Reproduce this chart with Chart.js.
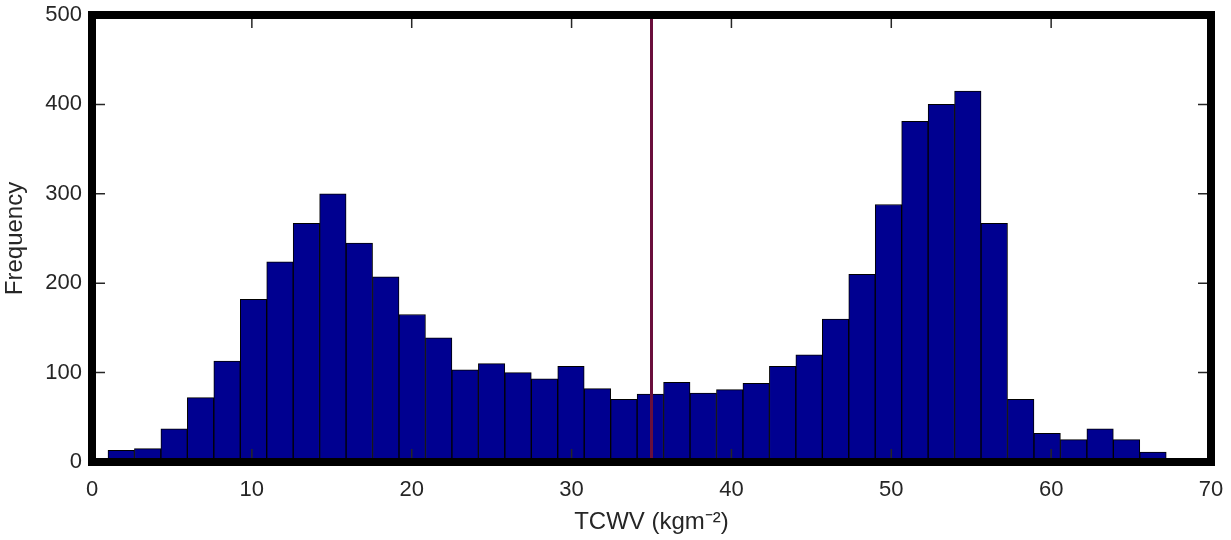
<!DOCTYPE html>
<html>
<head>
<meta charset="utf-8">
<script src="https://cdn.jsdelivr.net/npm/chart.js@4/dist/chart.umd.min.js"></script>
<style>
  html, body { margin: 0; padding: 0; background: #fff; }
  #wrap { width: 1231px; height: 540px; position: relative; }
</style>
</head>
<body>
<div id="wrap"><canvas id="histChart"></canvas></div>
<script>
// histogram bins (TCWV, kg m^-2)
const binStart = 1.0;
const binWidth = 1.655;
const frequency = [
  13, 15, 37, 72, 113, 182, 224, 267, 300, 245,
  207, 165, 139, 103, 110, 100, 93, 107, 82, 70,
  76, 89, 77, 81, 88, 107, 120, 160, 210, 288,
  381, 400, 415, 267, 70, 32, 25, 37, 25, 11
];
const thresholdX = 35;
const xTicks = [0, 10, 20, 30, 40, 50, 60, 70];
const yTicks = [0, 100, 200, 300, 400, 500];

const textColor = '#262626';
const fontFam = '"Liberation Sans", Arial, Helvetica, sans-serif';

// bars go on bin centres
const barPoints = frequency.map((f, i) => ({ x: binStart + binWidth * (i + 0.5), y: f }));

// thick box round the axes + inward ticks on all four sides (matlab look)
const boxPlugin = {
  id: 'boxAxes',
  afterDatasetsDraw(chart) {
    const { ctx, chartArea: a, scales } = chart;
    const tl = 13;
    ctx.save();
    ctx.strokeStyle = textColor;
    ctx.lineWidth = 1.5;
    ctx.beginPath();
    xTicks.slice(1, -1).forEach(v => {
      const px = scales.x.getPixelForValue(v);
      ctx.moveTo(px, a.top); ctx.lineTo(px, a.top + tl);
      ctx.moveTo(px, a.bottom); ctx.lineTo(px, a.bottom - tl);
    });
    yTicks.slice(1, -1).forEach(v => {
      const py = scales.y.getPixelForValue(v);
      ctx.moveTo(a.left, py); ctx.lineTo(a.left + tl, py);
      ctx.moveTo(a.right, py); ctx.lineTo(a.right - tl, py);
    });
    ctx.stroke();
    ctx.strokeStyle = '#000';
    ctx.lineWidth = 8;
    ctx.strokeRect(a.left, a.top, a.right - a.left, a.bottom - a.top);
    ctx.restore();
  }
};

new Chart(document.getElementById('histChart'), {
  type: 'bar',
  data: {
    datasets: [
      {
        type: 'line',
        data: [{ x: thresholdX, y: 0 }, { x: thresholdX, y: 500 }],
        borderColor: '#6a0f3c',
        borderWidth: 3,
        pointRadius: 0,
        order: 0
      },
      {
        data: barPoints,
        backgroundColor: '#000090',
        borderColor: '#000000',
        borderWidth: 1,
        barPercentage: 1,
        categoryPercentage: 1,
        order: 1
      }
    ]
  },
  options: {
    responsive: true,
    maintainAspectRatio: false,
    animation: false,
    layout: { padding: { top: 15, right: 20, left: 0, bottom: 0 } },
    plugins: { legend: { display: false }, tooltip: { enabled: false } },
    scales: {
      x: {
        type: 'linear',
        offset: false,
        min: 0,
        max: 70,
        afterBuildTicks: s => { s.ticks = xTicks.map(v => ({ value: v })); },
        afterFit: s => {
          s.height = 78;
          s.paddingLeft = 0; s.paddingRight = 0;
        },
        grid: { display: false, drawTicks: false },
        border: { display: false },
        ticks: { color: textColor, padding: 15, maxRotation: 0, font: { family: fontFam, size: 22 } },
        title: {
          display: true,
          text: 'TCWV (kgm\u207B\u00B2)',
          color: textColor,
          padding: { top: 0, bottom: 3 },
          font: { family: fontFam, size: 24 }
        }
      },
      y: {
        min: 0,
        max: 500,
        afterBuildTicks: s => { s.ticks = yTicks.map(v => ({ value: v })); },
        afterFit: s => {
          s.width = 92;
          s.paddingTop = 0; s.paddingBottom = 0;
        },
        grid: { display: false, drawTicks: false },
        border: { display: false },
        ticks: { color: textColor, padding: 10, font: { family: fontFam, size: 22 } },
        title: {
          display: true,
          text: 'Frequency',
          color: textColor,
          padding: { top: 1, bottom: 0 },
          font: { family: fontFam, size: 24 }
        }
      }
    }
  },
  plugins: [boxPlugin]
});
</script>
</body>
</html>
